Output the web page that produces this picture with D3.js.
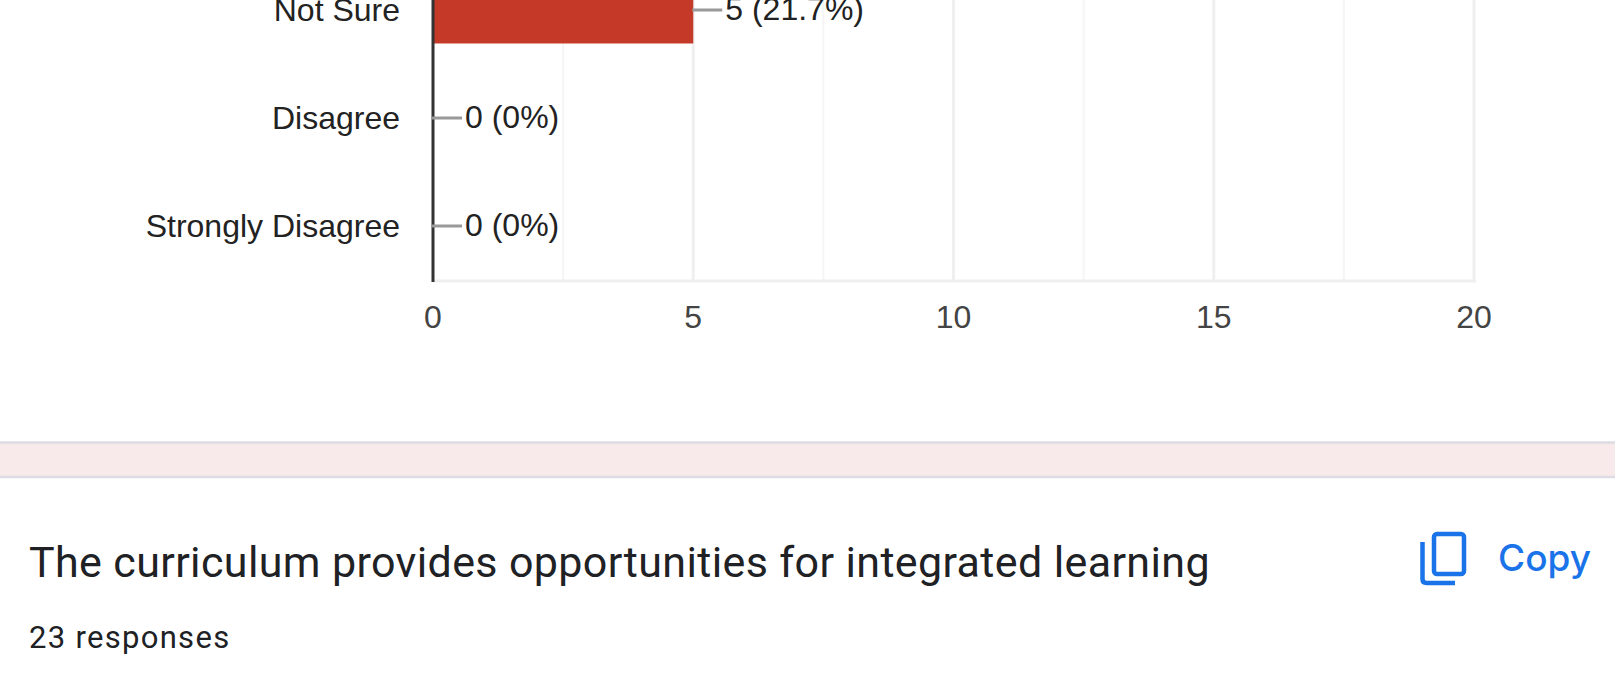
<!DOCTYPE html>
<html>
<head>
<meta charset="utf-8">
<script src="https://cdn.jsdelivr.net/npm/d3@7"></script>
<style>
  body { margin: 0; background: #fff; overflow: hidden; }
  svg { display: block; }
  .chart-text { font-family: "Liberation Sans", Arial, sans-serif; font-size: 32px; }
  .form-text { font-family: Roboto, sans-serif; fill: #202124; }
</style>
</head>
<body>
<div id="chart"></div>
<script>
const categories = ["Not Sure", "Disagree", "Strongly Disagree"];
const values = [5, 0, 0];
const valueLabels = ["5 (21.7%)", "0 (0%)", "0 (0%)"];
const majorTicks = [0, 5, 10, 15, 20];
const minorTicks = [2.5, 7.5, 12.5, 17.5];

const title = "The curriculum provides opportunities for integrated learning";
const subtitle = "23 responses";

const width = 1615;
const height = 678;
const margin = { left: 433, right: 141, bottom: 397 };

const svg = d3.select("#chart")
  .append("svg")
    .attr("width", width)
    .attr("height", height);

const x = d3.scaleLinear()
  .domain([0, 20])
  .range([margin.left, width - margin.right]);

const plotBottom = height - margin.bottom;

// the top of the chart is cut off by the screenshot, so the band range starts above 0
const y = d3.scaleBand()
  .domain(categories)
  .range([-44, plotBottom - 1])
  .paddingInner(0.38)
  .paddingOuter(0.19);

// grid
svg.append("g")
  .selectAll("line")
  .data(minorTicks)
  .enter().append("line")
    .attr("x1", d => x(d))
    .attr("x2", d => x(d))
    .attr("y1", 0)
    .attr("y2", plotBottom)
    .attr("stroke", "#f5f5f5")
    .attr("stroke-width", 2);

svg.append("g")
  .selectAll("line")
  .data(majorTicks.slice(1))
  .enter().append("line")
    .attr("x1", d => x(d))
    .attr("x2", d => x(d))
    .attr("y1", 0)
    .attr("y2", plotBottom)
    .attr("stroke", "#efefef")
    .attr("stroke-width", 3);

svg.append("line")
  .attr("x1", x(0))
  .attr("x2", x(20) + 2)
  .attr("y1", plotBottom)
  .attr("y2", plotBottom)
  .attr("stroke", "#efefef")
  .attr("stroke-width", 3);

// bars
svg.append("g")
  .selectAll("rect")
  .data(categories)
  .enter().append("rect")
    .attr("x", x(0))
    .attr("y", d => y(d))
    .attr("width", (d, i) => x(values[i]) - x(0))
    .attr("height", y.bandwidth())
    .attr("fill", "#c53929");

// baseline
svg.append("line")
  .attr("x1", x(0))
  .attr("x2", x(0))
  .attr("y1", 0)
  .attr("y2", plotBottom + 1)
  .attr("stroke", "#333")
  .attr("stroke-width", 3);

// leader lines and value labels
const center = d => y(d) + y.bandwidth() / 2;

svg.append("g")
  .selectAll("line")
  .data(categories)
  .enter().append("line")
    .attr("x1", (d, i) => x(values[i]) - 1)
    .attr("x2", (d, i) => x(values[i]) + 29)
    .attr("y1", center)
    .attr("y2", center)
    .attr("stroke", "#999")
    .attr("stroke-width", 3);

svg.append("g")
  .selectAll("text")
  .data(categories)
  .enter().append("text")
    .attr("class", "chart-text")
    .attr("x", (d, i) => x(values[i]) + 32)
    .attr("y", d => center(d) + 10)
    .attr("fill", "#222")
    .text((d, i) => valueLabels[i]);

// category labels
svg.append("g")
  .selectAll("text")
  .data(categories)
  .enter().append("text")
    .attr("class", "chart-text")
    .attr("x", 400)
    .attr("y", d => center(d) + 11)
    .attr("text-anchor", "end")
    .attr("fill", "#222")
    .text(d => d);

// x tick labels
svg.append("g")
  .selectAll("text")
  .data(majorTicks)
  .enter().append("text")
    .attr("class", "chart-text")
    .attr("x", d => x(d))
    .attr("y", 328)
    .attr("text-anchor", "middle")
    .attr("fill", "#444")
    .text(d => d);

// pink divider band
svg.append("rect")
  .attr("x", -2)
  .attr("y", 442.5)
  .attr("width", width + 4)
  .attr("height", 34.5)
  .attr("fill", "#f8eaea")
  .attr("stroke", "#dcdce2")
  .attr("stroke-width", 2.5);

// header of the next question
svg.append("text")
  .attr("class", "form-text")
  .attr("x", 29)
  .attr("y", 577)
  .attr("font-size", 43)
  .attr("letter-spacing", "0.37px")
  .text(title);

svg.append("text")
  .attr("class", "form-text")
  .attr("x", 29)
  .attr("y", 648)
  .attr("font-size", 31)
  .attr("letter-spacing", "1.3px")
  .text(subtitle);

// copy button
const blue = "#1a73e8";
svg.append("rect")
  .attr("x", 1434)
  .attr("y", 534)
  .attr("width", 30)
  .attr("height", 40)
  .attr("rx", 3)
  .attr("fill", "none")
  .attr("stroke", blue)
  .attr("stroke-width", 4.5);

svg.append("path")
  .attr("d", "M1422.5 542V579Q1422.5 583 1426.5 583H1455")
  .attr("fill", "none")
  .attr("stroke", blue)
  .attr("stroke-width", 4.5);

svg.append("text")
  .attr("x", 1498)
  .attr("y", 571)
  .attr("font-family", "Inter, sans-serif")
  .attr("font-size", 37)
  .attr("font-weight", 500)
  .attr("fill", blue)
  .text("Copy");
</script>
</body>
</html>
